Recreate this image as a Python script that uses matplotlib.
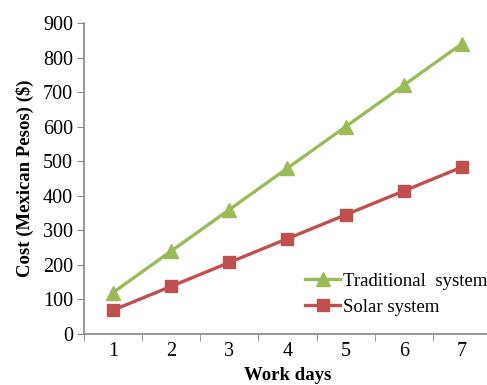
import matplotlib.pyplot as plt

days = [1, 2, 3, 4, 5, 6, 7]
traditional = [120, 240, 360, 480, 600, 720, 840]
solar = [69, 138, 207, 276, 345, 414, 483]

plt.rcParams['font.family'] = 'Liberation Serif'

fig = plt.figure(figsize=(4.87, 3.85), dpi=100)
ax = fig.add_axes([84/487, 1 - 334/385, (491 - 84)/487, (334 - 23)/385])

ax.plot(days, traditional, color='#9BBB59', lw=2.4, marker='^', ms=10,
        label='Traditional  system')
ax.plot(days, solar, color='#C0504D', lw=2.4, marker='s', ms=9,
        label='Solar system')

ax.set_xlim(0.5, 7.5)
ax.set_ylim(0, 900)
ax.set_yticks(range(0, 901, 100))
ax.set_xticks(days)
ax.set_xticks([d + 0.5 for d in range(0, 8)], minor=True)
ax.tick_params(axis='x', which='major', length=0, labelsize=14.5, pad=6)
ax.tick_params(axis='x', which='minor', length=5, color='#888888')
ax.tick_params(axis='y', length=5, color='#888888', labelsize=14.5, pad=3)

for s in ['top', 'right']:
    ax.spines[s].set_visible(False)
for s in ['left', 'bottom']:
    ax.spines[s].set_color('#888888')
    ax.spines[s].set_linewidth(1.2)

ax.set_ylabel('Cost (Mexican Pesos) ($)', fontsize=13.5, fontweight='bold', labelpad=6)
ax.set_xlabel('Work days', fontsize=13.5, fontweight='bold', labelpad=4)

ax.legend(loc='lower right', bbox_to_anchor=(411/407, 0.035),
          frameon=False, fontsize=13.5, handlelength=1.9, handletextpad=0.15,
          labelspacing=0.45, borderaxespad=0)

fig.savefig('out.png', dpi=100)
